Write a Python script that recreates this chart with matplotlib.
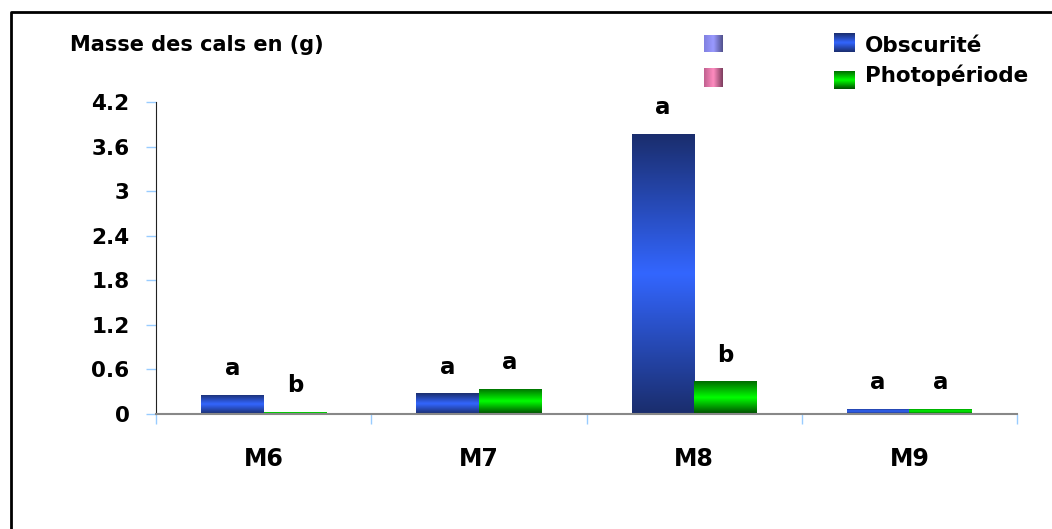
import numpy as np
import matplotlib
matplotlib.use('Agg')
from matplotlib import pyplot as plt
from matplotlib.colors import LinearSegmentedColormap
from matplotlib.lines import Line2D

# data
groupes = ['M6', 'M7', 'M8', 'M9']
obscurite = [0.26, 0.28, 3.77, 0.07]
photoperiode = [0.03, 0.34, 0.44, 0.07]
lettres_obsc = ['a', 'a', 'a', 'a']
lettres_photo = ['b', 'a', 'b', 'a']
yticks = [0, 0.6, 1.2, 1.8, 2.4, 3, 3.6, 4.2]
ytick_labels = ['0', '0.6', '1.2', '1.8', '2.4', '3', '3.6', '4.2']

plt.rcParams['font.family'] = ['DejaVu Sans']
plt.rcParams['font.weight'] = 'bold'

cmap_bleu = LinearSegmentedColormap.from_list('bleu', ['#1a2d6c', '#3366ff', '#1a2d6c'])
cmap_vert = LinearSegmentedColormap.from_list('vert', ['#006a00', '#00ff00', '#004a00'])
cmap_lav = LinearSegmentedColormap.from_list('lav', ['#8080e0', '#9a9aff', '#50508a'])
cmap_rose = LinearSegmentedColormap.from_list('rose', ['#c0608f', '#ff8cc0', '#7a3c5c'])

grad = np.linspace(0, 1, 256).reshape(-1, 1)

W, H = 1052, 529
fig = plt.figure(figsize=(W / 100, H / 100), dpi=100)
ax = fig.add_axes([156 / W, 1 - 414 / H, (1017 - 156) / W, 312 / H])

x = np.arange(len(groupes))
w = 0.29
b1 = ax.bar(x - w / 2, obscurite, w, facecolor='none', edgecolor='none')
b2 = ax.bar(x + w / 2, photoperiode, w, facecolor='none', edgecolor='none')


def remplir(bars, cmap):
    for p in bars:
        x0 = p.get_x()
        h = p.get_height()
        im = ax.imshow(grad, cmap=cmap, aspect='auto', interpolation='bicubic',
                       extent=[x0, x0 + p.get_width(), 0, h], zorder=2)
        im.set_clip_path(p)


remplir(b1, cmap_bleu)
remplir(b2, cmap_vert)

for p, t in zip(list(b1) + list(b2), lettres_obsc + lettres_photo):
    ax.annotate(t, (p.get_x() + p.get_width() / 2, p.get_height()),
                xytext=(0, 14), textcoords='offset points', ha='center', va='baseline',
                fontsize=16.5, fontweight='bold')

ax.set_xlim(-0.5, len(groupes) - 0.5)
ax.set_ylim(0, 4.2)

ax.set_yticks(yticks)
ax.set_yticklabels(ytick_labels)
ax.tick_params(axis='y', color='#99ccff', length=7, width=1, labelsize=15.5, pad=12)

ax.set_xticks(np.arange(len(groupes) + 1) - 0.5)
ax.set_xticklabels([])
ax.set_xticks(x, minor=True)
ax.set_xticklabels(groupes, minor=True)
ax.tick_params(axis='x', which='major', color='#99ccff', length=7, width=1)
ax.tick_params(axis='x', which='minor', length=0, labelsize=17, pad=24)

for s in ['top', 'right']:
    ax.spines[s].set_visible(False)
ax.spines['left'].set_color('#222222')
ax.spines['bottom'].set_color('#888888')
ax.spines['bottom'].set_linewidth(1.5)

fig.text(70 / W, 1 - 51 / H, 'Masse des cals en (g)', fontsize=15, fontweight='bold',
         va='baseline', ha='left')

# legende
def carre(x0, y0, x1, y1, cmap, horizontal=False):
    a = fig.add_axes([x0 / W, 1 - y1 / H, (x1 - x0) / W, (y1 - y0) / H])
    g = grad.T if horizontal else grad
    a.imshow(g, cmap=cmap, aspect='auto', interpolation='bicubic')
    a.axis('off')


carre(704, 35, 723, 52, cmap_lav, horizontal=True)
carre(704, 68, 723, 87, cmap_rose, horizontal=True)
carre(834, 33, 855, 52, cmap_bleu)
carre(834, 71, 855, 89, cmap_vert)
fig.text(865 / W, 1 - 52 / H, 'Obscurité', fontsize=15.5, fontweight='bold', va='baseline')
fig.text(865 / W, 1 - 82 / H, 'Photopériode', fontsize=15.5, fontweight='bold', va='baseline')

# cadre
fig.add_artist(Line2D([11 / W, 11 / W, 1.0], [0.0, 1 - 12 / H, 1 - 12 / H],
                      transform=fig.transFigure, color='black', linewidth=2))

fig.savefig('out.png', dpi=100)
